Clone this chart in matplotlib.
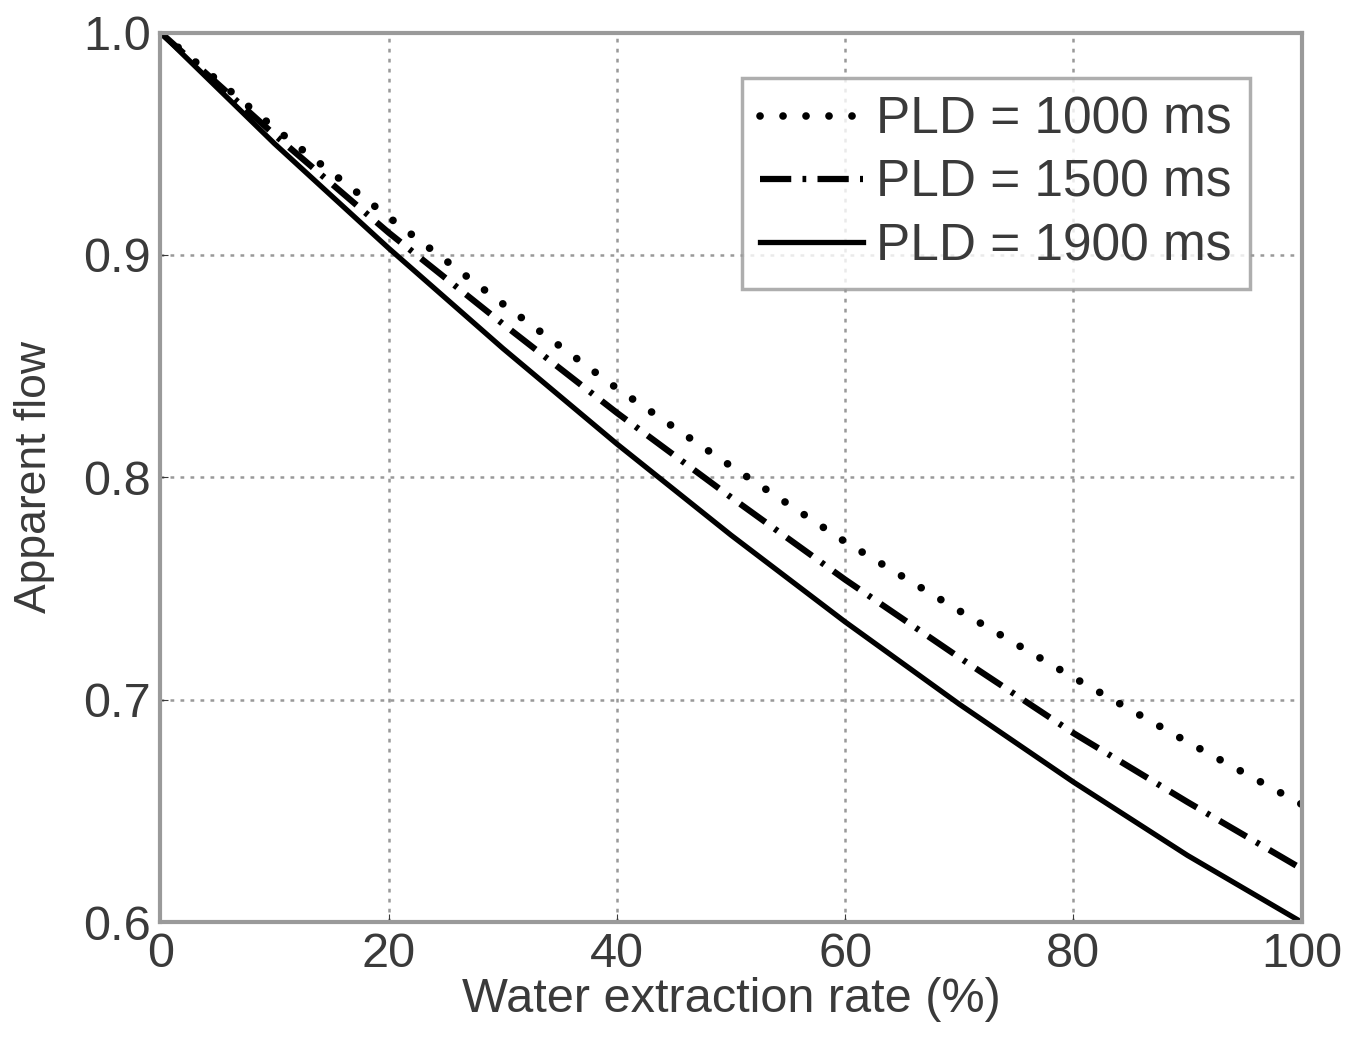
import numpy as np
import matplotlib.pyplot as plt

plt.rcParams['font.family'] = ['Liberation Sans', 'DejaVu Sans']

# 读图得到的数据
rate = [0, 10, 20, 30, 40, 50, 60, 70, 80, 90, 100]
flow_1000 = [1.0, 0.957, 0.917, 0.878, 0.840, 0.805, 0.771, 0.740, 0.710, 0.681, 0.653]
flow_1500 = [1.0, 0.954, 0.910, 0.869, 0.829, 0.791, 0.754, 0.719, 0.685, 0.654, 0.624]
flow_1900 = [1.0, 0.950, 0.903, 0.858, 0.815, 0.774, 0.735, 0.698, 0.663, 0.630, 0.600]
labels = ["PLD = 1000 ms", "PLD = 1500 ms", "PLD = 1900 ms"]
xticks = [0, 20, 40, 60, 80, 100]
yticks = [0.6, 0.7, 0.8, 0.9, 1.0]

fig = plt.figure(figsize=(13.6, 10.49), dpi=100)
ax = fig.add_axes([0.118, 0.121, 0.839, 0.848])

ax.plot(rate, flow_1000, color='black', lw=5.5, linestyle=(0, (0.01, 3.0)),
        dash_capstyle='round', label=labels[0])
ax.plot(rate, flow_1500, color='black', lw=4.5, linestyle=(0, (5.0, 1.8, 0.6, 1.8)),
        label=labels[1])
ax.plot(rate, flow_1900, color='black', lw=3.8, label=labels[2])

ax.set_xlim(0, 100)
ax.set_ylim(0.6, 1.0)
ax.set_xticks(xticks)
ax.set_yticks(yticks)
ax.set_yticklabels(["%.1f" % v for v in yticks])
ax.tick_params(direction='in', labelsize=35, colors='#3a3a3a', length=6, pad=7)
ax.grid(True, color='#999999', linestyle=(0, (1.5, 2.5)), lw=1.8)
for s in ax.spines.values():
    s.set_color('#9a9a9a')
    s.set_linewidth(3)

ax.set_xlabel("Water extraction rate (%)", fontsize=35, color='#3a3a3a', labelpad=0)
ax.set_ylabel("Apparent flow", fontsize=32, color='#3a3a3a', labelpad=20)

leg = ax.legend(loc='upper right', fontsize=37, handlelength=2.0, handletextpad=0.25,
                labelspacing=0.28, borderpad=0.35, borderaxespad=0, fancybox=False,
                bbox_to_anchor=(0.9545, 0.9494))
leg.get_frame().set_edgecolor('#9a9a9a')
leg.get_frame().set_linewidth(2.5)
for t in leg.get_texts():
    t.set_color('#3a3a3a')

fig.savefig("out.png", dpi=100)
